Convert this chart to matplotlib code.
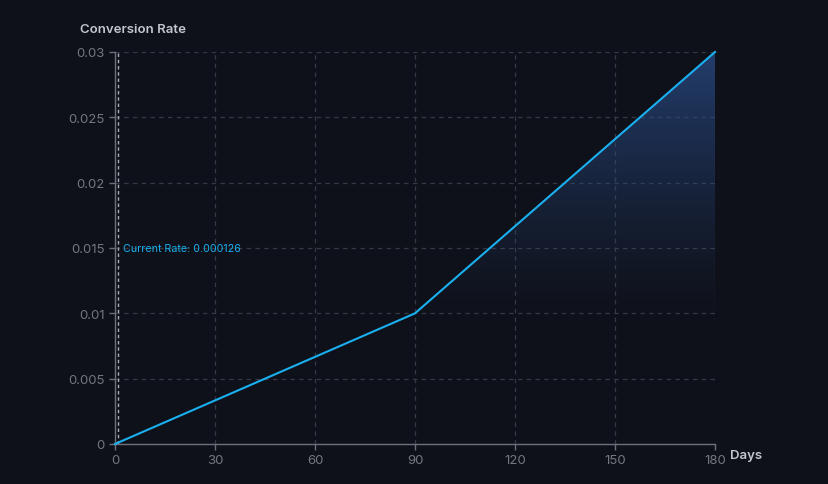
import numpy as np
import matplotlib.pyplot as plt
from matplotlib.patches import Polygon

plt.rcParams['font.family'] = ['Inter', 'DejaVu Sans']

# data
days = [0, 90, 180]
rate = [0, 0.01, 0.03]
current_day = 0.8
current_rate_label = 'Current Rate: 0.000126'
xticks = [0, 30, 60, 90, 120, 150, 180]
yticks = [0, 0.005, 0.01, 0.015, 0.02, 0.025, 0.03]
ytick_labels = ['0', '0.005', '0.01', '0.015', '0.02', '0.025', '0.03']

bg = '#0f111a'
line_col = '#1ab0f0'
grid_col = '#363944'
axis_col = '#6e7079'
tick_txt = '#74777f'

fig = plt.figure(figsize=(8.29, 4.85), dpi=100, facecolor=bg)
ax = fig.add_axes([115/829, 1-445/485, 600/829, 392/485])
ax.set_facecolor(bg)

ax.set_xlim(0, 180)
ax.set_ylim(0, 0.03)

# gradient area under the line, fades out towards the bottom
t = np.linspace(1.0, 0.0, 256)
alpha = np.clip((t - 0.3) / 0.7, 0, 1) ** 1.3 * 0.72
grad = np.zeros((256, 2, 4))
grad[..., 0] = 0.17
grad[..., 1] = 0.31
grad[..., 2] = 0.55
grad[..., 3] = alpha[:, None]
img = ax.imshow(grad, extent=[0, 180, 0, 0.03], aspect='auto', origin='upper', zorder=1)
poly = Polygon(list(zip(days, rate)) + [(180, 0), (0, 0)], closed=True,
               facecolor='none', edgecolor='none', transform=ax.transData)
ax.add_patch(poly)
img.set_clip_path(poly)

ax.plot(days, rate, color=line_col, lw=1.5, zorder=4, clip_on=False)

# current rate marker
ax.axvline(current_day, color='#a8abb3', lw=1, ls=(0, (2.5, 2)), zorder=3)
ax.text(current_day + 1.6, 0.015, current_rate_label, color=line_col,
        fontsize=7.7, va='center', ha='left', zorder=5)

ax.set_xticks(xticks)
ax.set_yticks(yticks)
ax.set_yticklabels(ytick_labels)
ax.grid(True, color=grid_col, lw=0.9, ls=(0, (3.5, 3.5)))
ax.set_axisbelow(True)
ax.tick_params(colors=axis_col, labelcolor=tick_txt, labelsize=9.5, length=4, width=1)
ax.tick_params(axis='x', pad=3)

for s in ['top', 'right']:
    ax.spines[s].set_visible(False)
for s in ['left', 'bottom']:
    ax.spines[s].set_color(axis_col)
    ax.spines[s].set_linewidth(1)

fig.text(80/829, 1-30/485, 'Conversion Rate', color='#c4c6cc', fontsize=9.5,
         fontweight='semibold', va='center', ha='left')
fig.text(730/829, 1-456/485, 'Days', color='#c4c6cc', fontsize=9.5,
         fontweight='semibold', va='center', ha='left')

fig.savefig('out.png', dpi=100, facecolor=bg)
